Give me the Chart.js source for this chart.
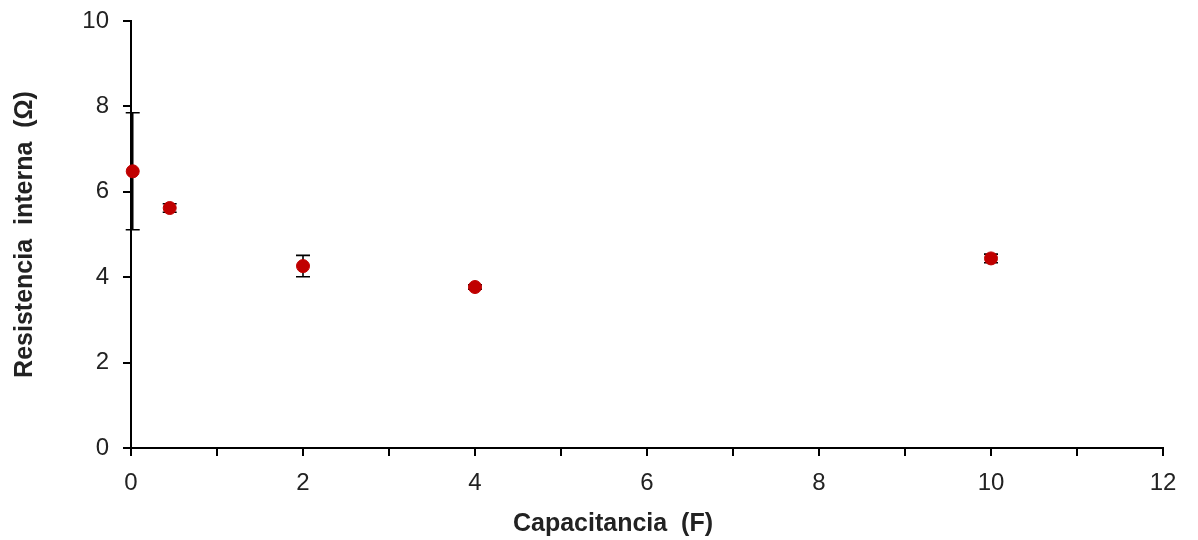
<!DOCTYPE html>
<html>
<head>
<meta charset="utf-8">
<script src="https://cdn.jsdelivr.net/npm/chart.js"></script>
<style>
  body { margin: 0; background: #fff; }
  #wrap { width: 1198px; height: 540px; }
</style>
</head>
<body>
<div id="wrap"><canvas id="chart" width="1198" height="540"></canvas></div>
<script>
const capacitance = [0.02, 0.45, 2, 4, 10];
const resistance = [6.48, 5.62, 4.26, 3.77, 4.44];
const resistanceErr = [1.37, 0.1, 0.25, 0.05, 0.1];

const xTitle = 'Capacitancia  (F)';
const yTitle = 'Resistencia  interna  (Ω)';

const tickFont = { family: 'Liberation Sans, Arial, sans-serif', size: 24 };
const titleFont = { family: 'Liberation Sans, Arial, sans-serif', size: 25, weight: 'bold' };

// error bars, drawn before the points so the dots sit on top
const errorBars = {
  id: 'errorBars',
  beforeDatasetsDraw(chart) {
    const ctx = chart.ctx;
    const xs = chart.scales.x;
    const ys = chart.scales.y;
    ctx.save();
    ctx.strokeStyle = '#000';
    ctx.lineWidth = 1.6;
    capacitance.forEach((c, i) => {
      const px = xs.getPixelForValue(c);
      const top = ys.getPixelForValue(resistance[i] + resistanceErr[i]);
      const bot = ys.getPixelForValue(resistance[i] - resistanceErr[i]);
      ctx.beginPath();
      ctx.moveTo(px, top);
      ctx.lineTo(px, bot);
      ctx.moveTo(px - 7, top);
      ctx.lineTo(px + 7, top);
      ctx.moveTo(px - 7, bot);
      ctx.lineTo(px + 7, bot);
      ctx.stroke();
    });
    ctx.restore();
  }
};

// x title sits a bit left of the plot centre in the original
const xTitlePlugin = {
  id: 'xTitle',
  afterDraw(chart) {
    const ctx = chart.ctx;
    ctx.save();
    ctx.font = `bold ${titleFont.size}px ${titleFont.family}`;
    ctx.fillStyle = '#222';
    ctx.textAlign = 'center';
    ctx.textBaseline = 'alphabetic';
    ctx.fillText(xTitle, 613, 531);
    ctx.restore();
  }
};

new Chart(document.getElementById('chart'), {
  type: 'scatter',
  data: {
    datasets: [{
      data: capacitance.map((c, i) => ({ x: c, y: resistance[i] })),
      backgroundColor: '#C00000',
      borderColor: '#C00000',
      pointRadius: 6.5,
      pointHoverRadius: 6.5,
      clip: false,
    }]
  },
  options: {
    responsive: false,
    animation: false,
    layout: { padding: { left: 0, right: 35, top: 21, bottom: 0 } },
    plugins: {
      legend: { display: false },
      tooltip: { enabled: false },
    },
    scales: {
      x: {
        type: 'linear',
        min: 0,
        max: 12,
        afterFit: (scale) => { scale.height = 92; },
        ticks: {
          stepSize: 1,
          color: '#222',
          font: tickFont,
          padding: 13,
          maxRotation: 0,
          autoSkip: false,
          callback: (v) => (v % 2 === 0 ? v : ''),
        },
        grid: {
          drawOnChartArea: false,
          drawTicks: true,
          tickLength: 8,
          color: '#000',
          lineWidth: 2,
        },
        border: { color: '#000', width: 2 },
      },
      y: {
        type: 'linear',
        min: 0,
        max: 10,
        afterFit: (scale) => {
          scale.width = 131;
          scale.paddingTop = 0;
          scale.paddingBottom = 0;
        },
        ticks: {
          stepSize: 2,
          color: '#222',
          font: tickFont,
          padding: 14,
        },
        grid: {
          drawOnChartArea: false,
          drawTicks: true,
          tickLength: 8,
          color: '#000',
          lineWidth: 2,
        },
        border: { color: '#000', width: 2 },
        title: { display: true, text: yTitle, color: '#222', font: titleFont, padding: { top: 10, bottom: 0 } },
      }
    }
  },
  plugins: [errorBars, xTitlePlugin]
});
</script>
</body>
</html>
